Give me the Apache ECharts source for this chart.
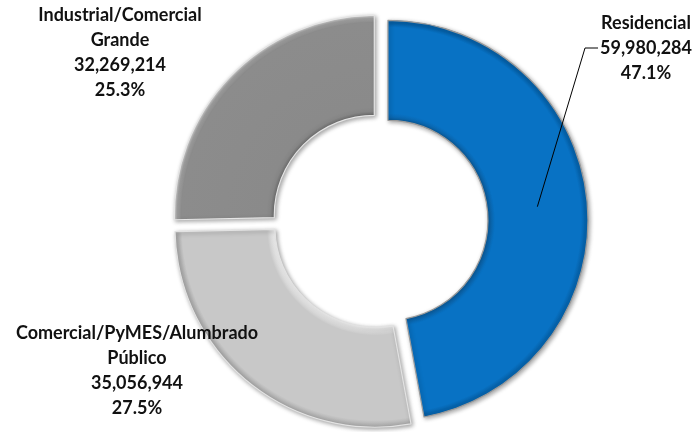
<!DOCTYPE html>
<html><head><meta charset="utf-8">
<script src="https://cdn.jsdelivr.net/npm/echarts@6/dist/echarts.min.js"></script>
<style>html,body{margin:0;padding:0;background:#fff}#c{width:695px;height:432px}</style>
</head><body><div id="c"></div>
<script>
// ---- data ----
const categories = ['Residencial', 'Comercial/PyMES/Alumbrado\nPúblico', 'Industrial/Comercial\nGrande'];
const values = [59980284, 35056944, 32269214];

// ---- styling / layout ----
const CX = 380, CY = 221, R0 = 100, R1 = 200, OFFSET = 8;
const FONT = 'bold 18px Lato';
const labelPos = [[646, 48], [137, 371], [120, 53]];
const palettes = [
  { stops: [[0.5,'#0a5a98'],[0.515,'#0a68b2'],[0.535,'#0872c4'],[0.965,'#0872c4'],[0.985,'#0562ab'],[1,'#0562ab']], border: '#9a9a9a' },
  { stops: [[0.5,'#f4f4f4'],[0.52,'#dcdcdc'],[0.54,'#c8c8c8'],[0.965,'#c8c8c8'],[0.985,'#b4b4b4'],[1,'#a8a8a8']], border: '#e2e2e2' },
  { stops: [[0.5,'#6c6c6c'],[0.52,'#858585'],[0.54,'#8a8a8a'],[0.965,'#8c8c8c'],[0.985,'#a4a4a4'],[1,'#d8d8d8']], border: '#e4e4e4' }
];

const total = values.reduce((a, b) => a + b, 0);
function midAngle(idx) {
  let cum = 0;
  for (let k = 0; k < idx; k++) cum += values[k];
  return 2 * Math.PI * (cum + values[idx] / 2) / total;
}
function centerFor(idx) {
  const th = midAngle(idx);
  return [CX + Math.sin(th) * OFFSET, CY - Math.cos(th) * OFFSET];
}
function innerPoint(idx) {
  const th = midAngle(idx);
  const d = OFFSET + (R0 + R1) / 2;
  return [CX + Math.sin(th) * d, CY - Math.cos(th) * d];
}
function fill(i) {
  const c = centerFor(i);
  return {
    type: 'radial', x: c[0], y: c[1], r: R1, global: true,
    colorStops: palettes[i].stops.map(s => ({ offset: s[0], color: s[1] }))
  };
}
function itemStyleFor(i) {
  return {
    color: fill(i), borderColor: palettes[i].border, borderWidth: 1.2,
    shadowBlur: 4, shadowColor: 'rgba(0,0,0,0.35)', shadowOffsetX: 1.5, shadowOffsetY: 1.5
  };
}
const hidden = { color: 'rgba(0,0,0,0)', borderWidth: 0, shadowBlur: 0 };
const fmt = v => v.toLocaleString('en-US');
const pct = v => (v / total * 100).toFixed(1) + '%';
const labelText = i => categories[i] + '\n' + fmt(values[i]) + '\n' + pct(values[i]);

const measureCtx = document.createElement('canvas').getContext('2d');
function textWidth(str) {
  measureCtx.font = FONT;
  return Math.max.apply(null, str.split('\n').map(s => measureCtx.measureText(s).width));
}

// one exploded slice per series
const slices = categories.map((_, i) => ({
  type: 'pie',
  center: centerFor(i),
  radius: [R0, R1],
  startAngle: 90,
  clockwise: true,
  silent: true,
  z: 2,
  emphasis: { disabled: true, scale: false },
  label: { show: false },
  labelLine: { show: false },
  data: values.map((v, j) => ({
    name: categories[j],
    value: v,
    itemStyle: j === i ? itemStyleFor(j) : hidden
  }))
}));

// transparent overlay carrying the labels and the leader line (drawn on top)
const labels = {
  type: 'pie',
  center: [CX, CY],
  radius: [R0, R1],
  startAngle: 90,
  clockwise: true,
  silent: true,
  z: 5,
  emphasis: { disabled: true, scale: false },
  itemStyle: hidden,
  label: {
    show: true,
    position: 'outside',
    fontFamily: 'Lato',
    fontWeight: 'bold',
    fontSize: 18,
    lineHeight: 25,
    color: '#111111',
    align: 'center',
    width: 300,
    overflow: 'none',
    formatter: p => labelText(p.dataIndex)
  },
  labelLine: { show: false, lineStyle: { color: '#000000', width: 1 } },
  labelLayout: function (p) {
    const pos = labelPos[p.dataIndex];
    const out = { x: pos[0], y: pos[1], align: 'center', verticalAlign: 'middle' };
    if (p.dataIndex === 0) {
      const left = pos[0] - textWidth(labelText(0)) / 2;
      const ym = pos[1];
      out.labelLinePoints = [innerPoint(0), [left - 15, ym], [left - 2, ym]];
    }
    return out;
  },
  data: values.map((v, j) => ({
    name: categories[j],
    value: v,
    labelLine: { show: j === 0 }
  }))
};

const chart = echarts.init(document.getElementById('c'), null, { renderer: 'canvas' });
chart.setOption({
  animation: false,
  backgroundColor: '#ffffff',
  series: slices.concat([labels])
});
</script></body></html>
